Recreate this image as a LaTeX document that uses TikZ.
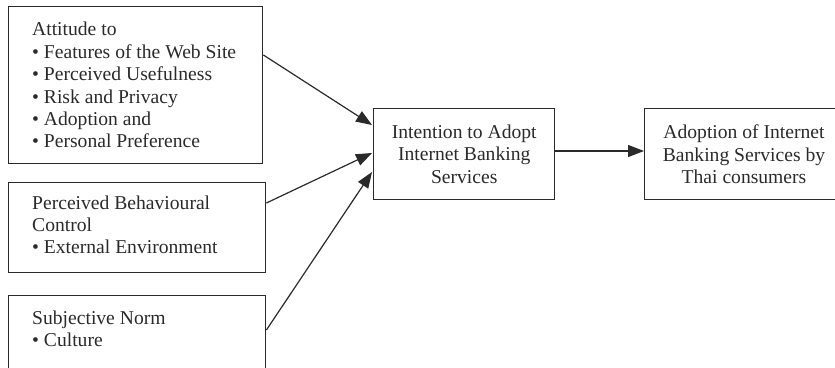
\documentclass[tikz,border=0pt]{standalone}
\usepackage{fontspec}
\setmainfont{Liberation Serif}
\usetikzlibrary{arrows.meta}
\definecolor{ink}{HTML}{2A2A2A}
\tikzset{
  box/.style={draw=ink, line width=1.4pt, rectangle, inner sep=0pt, anchor=north west},
  ltxt/.style={align=left, inner sep=0pt, anchor=west, text=ink, font=\fontsize{19.6}{22.4}\selectfont},
  ctxt/.style={align=center, inner sep=0pt, text=ink, font=\fontsize{19.6}{22.4}\selectfont},
  conn/.style={draw=ink, line width=1.2pt, -{Triangle[length=16pt,width=12pt]}}
}
\begin{document}
\begin{tikzpicture}[x=1pt,y=-1pt]
\useasboundingbox (0,0) rectangle (835,367);
\clip (0,0) rectangle (835,367);
% left boxes
\node[box, minimum width=254pt, minimum height=157pt] (att) at (8,6) {};
\node[ltxt] (attT) at ([xshift=24pt]att.west) {Attitude to\\• Features of the Web Site\\• Perceived Usefulness\\• Risk and Privacy\\• Adoption and\\• Personal Preference};
\node[box, minimum width=257pt, minimum height=90pt] (pbc) at (8,182) {};
\node[ltxt] (pbcT) at ([xshift=24pt,yshift=3pt]pbc.west) {Perceived Behavioural\\Control\\• External Environment};
\node[box, minimum width=257pt, minimum height=90pt] (sn) at (8,295) {};
\node[ltxt, anchor=north west] (snT) at ([xshift=24pt,yshift=-15.5pt]sn.north west) {Subjective Norm\\• Culture};
% middle and right boxes
\node[box, minimum width=181pt, minimum height=91pt] (int) at (373,108) {};
\node[ctxt] (intT) at (int.center) {Intention to Adopt\\Internet Banking\\Services};
\node[box, minimum width=200pt, minimum height=91pt] (ado) at (644,108) {};
\node[ctxt] (adoT) at ([xshift=100pt]ado.west) {Adoption of Internet\\Banking Services by\\Thai consumers};
% connectors
\coordinate (a1) at (372,125);
\coordinate (a2) at (372,153);
\coordinate (a3) at (372,172);
\draw[conn] (att.east |- 0,55) -- (a1);
\draw[conn] (pbc.east |- 0,203) -- (a2);
\draw[conn] (sn.east |- 0,330) -- (a3);
\draw[conn] (int.east |- 0,151) -- (ado.west |- 0,151);
\end{tikzpicture}
\end{document}
